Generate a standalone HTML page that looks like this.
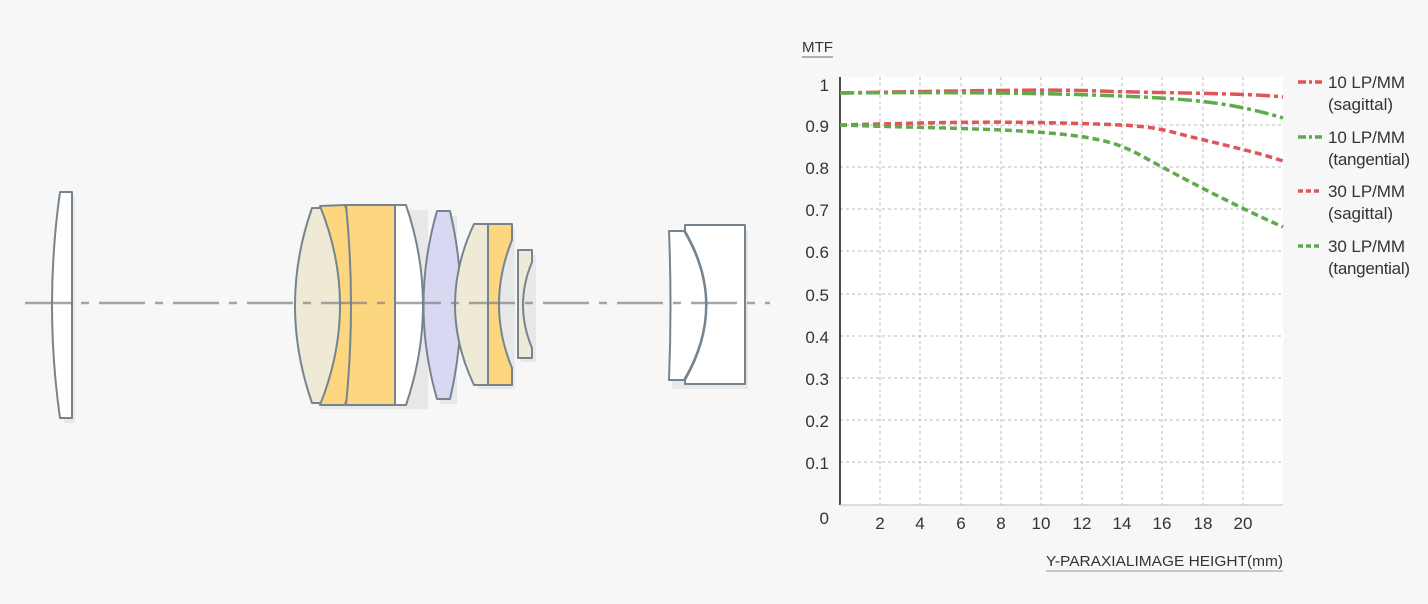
<!DOCTYPE html>
<html><head><meta charset="utf-8"><style>
html,body{margin:0;padding:0;background:#f7f7f7;}
svg{display:block;font-family:"Liberation Sans Narrow","Liberation Sans",sans-serif;}
</style></head><body>
<svg width="1428" height="604" viewBox="0 0 1428 604" xmlns="http://www.w3.org/2000/svg">
<rect width="1428" height="604" fill="#f7f7f7"/>
<g fill="#e8e8e8" stroke="none">
<rect x="64" y="197" width="11" height="226"/>
<rect x="320" y="210" width="108" height="199"/>
<rect x="440" y="216" width="17" height="188"/>
<rect x="478" y="229" width="37" height="160"/>
<rect x="521" y="255" width="15" height="107"/>
<rect x="672" y="230" width="76" height="159"/>
</g>
<g stroke="#76848f" stroke-width="2" stroke-linejoin="round">
<path d="M60,192 L72,192 L72,418 L60,418 Q44,305 60,192 Z" fill="#fff"/>
<path d="M312,208 L322,208 Q364,305 322,403 L312,403 Q278,305 312,208 Z" fill="#efead6"/>
<path d="M320,206 L345,205 Q375,305 345,405 L320,405 Q360,305 320,206 Z" fill="#fcd77f"/>
<path d="M346,205 L395,205 L395,405 L346,405 Q356,305 346,205 Z" fill="#fcd77f"/>
<path d="M395,205 L406,205 Q440,305 406,405 L395,405 Z" fill="#fff"/>
<path d="M437,211 L450,211 Q472,305 450,399 L437,399 Q410,305 437,211 Z" fill="#d8d8f2"/>
<path d="M474,224 L488,224 L488,385 L474,385 Q436,305 474,224 Z" fill="#efead6"/>
<path d="M488,224 L512,224 L512,240 Q486,305 512,368 L512,385 L488,385 Z" fill="#fcd77f"/>
<path d="M518,250 L532,250 L532,262 Q514,305 532,348 L532,358 L518,358 Z" fill="#efead6"/>
<path d="M669,231 L684,231 Q728,305 684,380 L669,380 Q672,305 669,231 Z" fill="#fff"/>
<path d="M685,231 L685,225 L745,225 L745,384 L685,384 L685,380 Q728,305 685,231 Z" fill="#fff"/>
</g>
<line x1="25" y1="303" x2="770" y2="303" stroke="#808080" stroke-opacity="0.7" stroke-width="2.5" stroke-dasharray="46,10,8,10"/>

<rect x="840" y="77" width="443" height="428" fill="#fff"/>
<g stroke="#bbb" stroke-width="1" stroke-dasharray="3,3">
<line x1="840" x2="1283" y1="125" y2="125"/><line x1="840" x2="1283" y1="167" y2="167"/>
<line x1="840" x2="1283" y1="209" y2="209"/><line x1="840" x2="1283" y1="251" y2="251"/>
<line x1="840" x2="1283" y1="294" y2="294"/><line x1="840" x2="1283" y1="336" y2="336"/>
<line x1="840" x2="1283" y1="378" y2="378"/><line x1="840" x2="1283" y1="420" y2="420"/>
<line x1="840" x2="1283" y1="462" y2="462"/>
<line y1="77" y2="505" x1="880" x2="880"/><line y1="77" y2="505" x1="920" x2="920"/>
<line y1="77" y2="505" x1="961" x2="961"/><line y1="77" y2="505" x1="1001" x2="1001"/>
<line y1="77" y2="505" x1="1041" x2="1041"/><line y1="77" y2="505" x1="1082" x2="1082"/>
<line y1="77" y2="505" x1="1122" x2="1122"/><line y1="77" y2="505" x1="1162" x2="1162"/>
<line y1="77" y2="505" x1="1203" x2="1203"/><line y1="77" y2="505" x1="1243" x2="1243"/>
</g>
<line x1="840" y1="77" x2="840" y2="505" stroke="#111" stroke-width="1.5"/>
<line x1="840" y1="505" x2="1283" y2="505" stroke="#bbb" stroke-width="1"/>
<g fill="none" stroke-width="3.5">
<path d="M840,93 C950,91 1050,89 1100,91 S1250,93 1283,97" stroke="#e05555" stroke-dasharray="14,4,4,4"/>
<path d="M840,93 C950,92 1050,93 1120,96 S1230,102 1283,118" stroke="#5eaa4d" stroke-dasharray="14,4,4,4"/>
<path d="M840,125 C920,123 980,121 1060,123 S1150,126 1180,134 S1250,150 1283,161" stroke="#e05555" stroke-dasharray="7,4"/>
<path d="M840,125 C920,128 1000,128 1060,134 S1130,150 1162,167 S1240,208 1283,227" stroke="#5eaa4d" stroke-dasharray="7,4"/>
</g>
<g font-size="17" fill="#333" text-anchor="end">
<text x="829" y="91">1</text><text x="829" y="132">0.9</text><text x="829" y="174">0.8</text>
<text x="829" y="216">0.7</text><text x="829" y="258">0.6</text><text x="829" y="301">0.5</text>
<text x="829" y="343">0.4</text><text x="829" y="385">0.3</text><text x="829" y="427">0.2</text>
<text x="829" y="469">0.1</text><text x="829" y="524">0</text>
</g>
<g font-size="17" fill="#333" text-anchor="middle">
<text x="880" y="529">2</text><text x="920" y="529">4</text><text x="961" y="529">6</text>
<text x="1001" y="529">8</text><text x="1041" y="529">10</text><text x="1082" y="529">12</text>
<text x="1122" y="529">14</text><text x="1162" y="529">16</text><text x="1203" y="529">18</text>
<text x="1243" y="529">20</text>
</g>
<text x="802" y="52" font-size="15" fill="#333" textLength="31" lengthAdjust="spacingAndGlyphs">MTF</text>
<line x1="802" y1="57" x2="833" y2="57" stroke="#999" stroke-width="1.5"/>
<text x="1046" y="566" font-size="15" fill="#333" textLength="237" lengthAdjust="spacingAndGlyphs">Y-PARAXIALIMAGE HEIGHT(mm)</text>
<line x1="1046" y1="571" x2="1283" y2="571" stroke="#999" stroke-width="1"/>
<g stroke-width="3.5">
<line x1="1298" y1="82" x2="1322" y2="82" stroke="#e05555" stroke-dasharray="8,3,3,3"/>
<line x1="1298" y1="137" x2="1322" y2="137" stroke="#5eaa4d" stroke-dasharray="8,3,3,3"/>
<line x1="1298" y1="191" x2="1322" y2="191" stroke="#e05555" stroke-dasharray="5,3"/>
<line x1="1298" y1="246" x2="1322" y2="246" stroke="#5eaa4d" stroke-dasharray="5,3"/>
</g>
<g font-size="17" fill="#333" lengthAdjust="spacingAndGlyphs">
<text x="1328" y="88" textLength="77">10 LP/MM</text><text x="1328" y="110" textLength="65">(sagittal)</text>
<text x="1328" y="143" textLength="77">10 LP/MM</text><text x="1328" y="165" textLength="82">(tangential)</text>
<text x="1328" y="197" textLength="77">30 LP/MM</text><text x="1328" y="219" textLength="65">(sagittal)</text>
<text x="1328" y="252" textLength="77">30 LP/MM</text><text x="1328" y="274" textLength="82">(tangential)</text>
</g>
</svg>
</body></html>
